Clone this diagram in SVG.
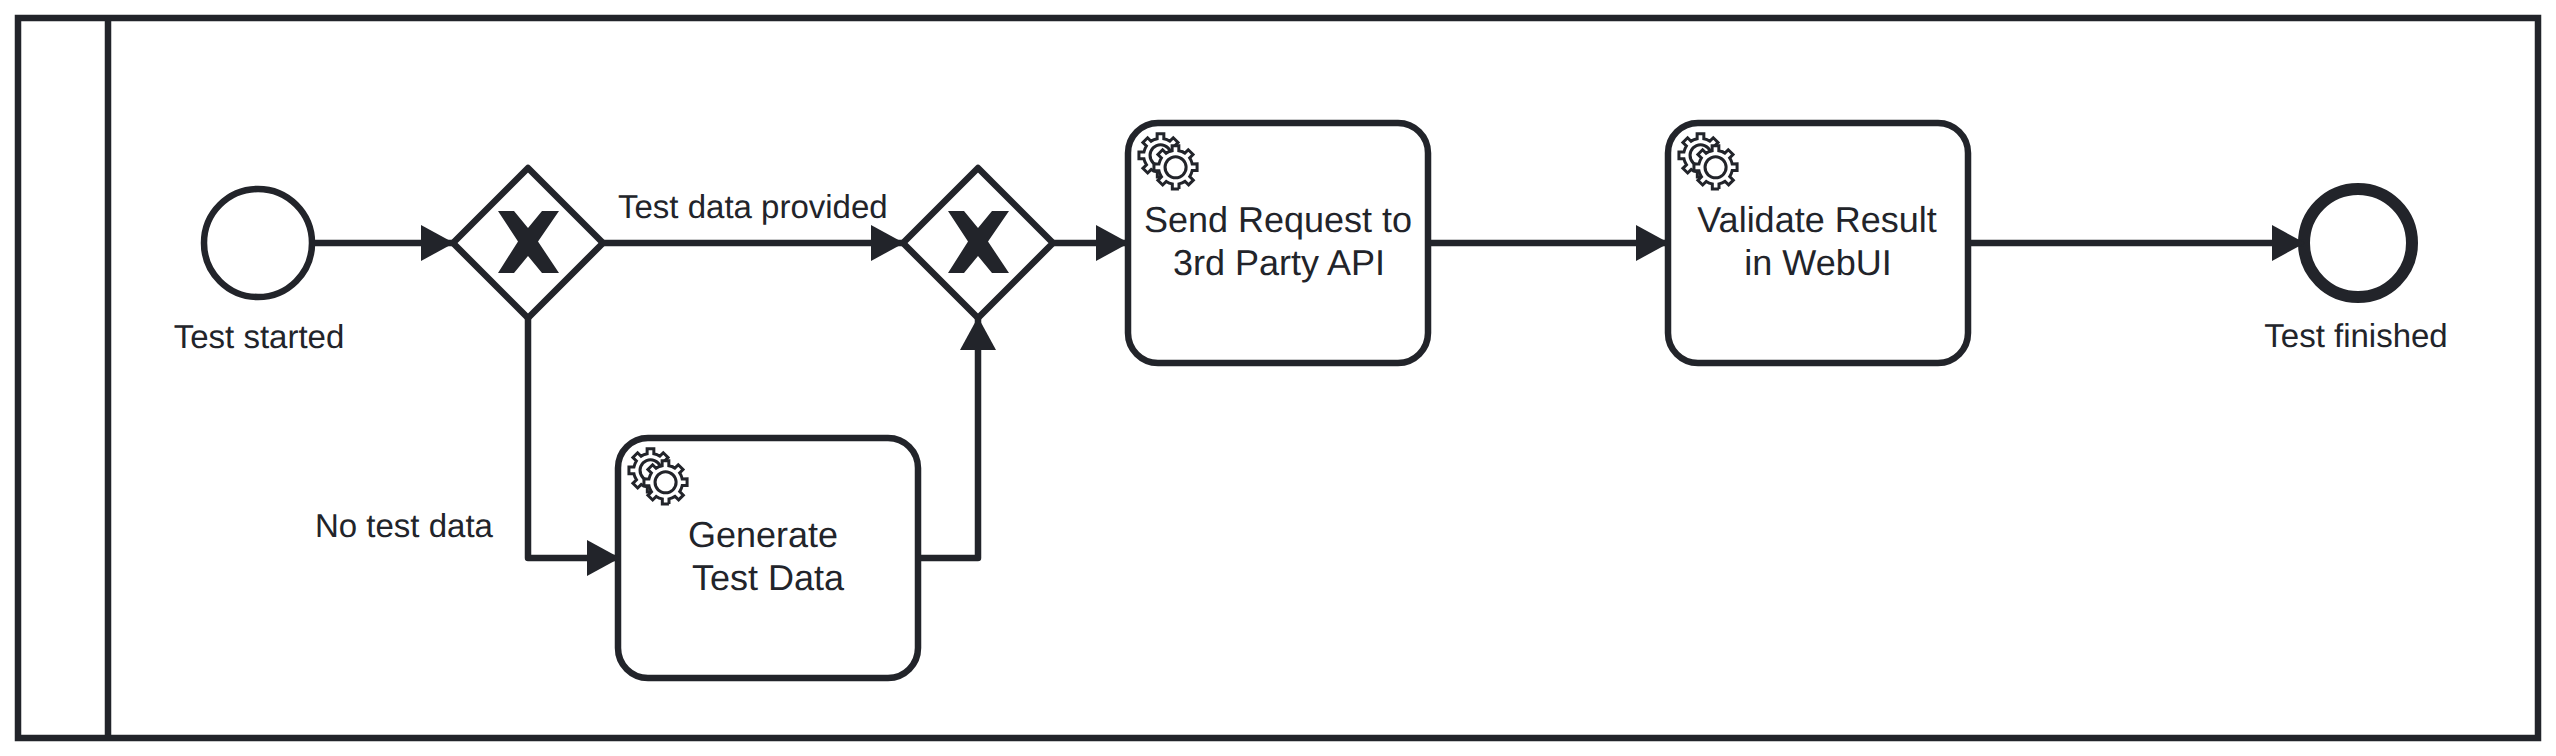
<svg xmlns="http://www.w3.org/2000/svg" xmlns:xlink="http://www.w3.org/1999/xlink" width="2556" height="756" viewBox="0 0 2556 756">
<style>
text{font-family:"Liberation Sans",Arial,sans-serif;fill:#22242a;text-rendering:geometricPrecision}
.lbl{font-size:33px}
.tsk{font-size:36px;text-anchor:middle}
.mid{text-anchor:middle}
.edge{fill:none;stroke:#22242a;stroke-width:6.5;stroke-linejoin:round}
.shape{fill:#fff;stroke:#22242a;stroke-width:6.5;stroke-linejoin:round}
.gear{fill:#fff;stroke:#22242a;stroke-width:1}
</style>
<defs>
<marker id="arrow" markerUnits="userSpaceOnUse" markerWidth="36" markerHeight="38" refX="32" refY="19" orient="auto"><path d="M0 1 L33 19 L0 37 Z" fill="#22242a"/></marker>
<path id="gearPath" d="m 0,0 v -1.71335 c 0.352326,-0.0705 0.703932,-0.17838 1.047628,-0.32133 0.344416,-0.14465 0.665822,-0.32133 0.966377,-0.52145 l 1.19431,1.18005 1.567487,-1.57688 -1.195028,-1.18014 c 0.403376,-0.61394 0.683079,-1.29908 0.825447,-2.01824 l 1.622133,-0.01 v -2.2196 l -1.636514,0.01 c -0.07333,-0.35153 -0.178319,-0.70024 -0.323564,-1.04372 -0.145244,-0.34406 -0.321407,-0.6644 -0.522735,-0.96217 l 1.131035,-1.13631 -1.583305,-1.56293 -1.129598,1.13589 c -0.614052,-0.40108 -1.302883,-0.68093 -2.022633,-0.82247 l 0.0093,-1.61852 h -2.241173 l 0.0042,1.63124 c -0.353763,0.0736 -0.705369,0.17977 -1.049785,0.32371 -0.344415,0.14437 -0.665102,0.32092 -0.9635006,0.52046 l -1.1698628,-1.15823 -1.5667691,1.5792 1.1684265,1.15669 c -0.4026573,0.61283 -0.68308,1.29797 -0.8247287,2.01713 l -1.6588041,0.003 v 2.22174 l 1.6724648,-0.006 c 0.073327,0.35077 0.1797598,0.70243 0.3242851,1.04472 0.1452428,0.34448 0.3214064,0.6644 0.5227339,0.96066 l -1.1993431,1.19723 1.5840256,1.56011 1.1964668,-1.19348 c 0.6140517,0.40346 1.3028827,0.68232 2.0233517,0.82331 l 7.19e-4,1.69892 h 2.226848 z m 0.221462,-3.9957 c -1.788948,0.7502 -3.8576,-0.0928 -4.6097055,-1.87438 -0.7521065,-1.78321 0.090598,-3.84627 1.8802645,-4.59604 1.78823,-0.74936 3.856881,0.0929 4.608987,1.87437 0.752106,1.78165 -0.0906,3.84612 -1.879546,4.59605 z"/>
<g id="service">
<use xlink:href="#gearPath" href="#gearPath" x="12" y="18" class="gear"/>
<path d="m 17.2,18 c -1.788948,0.7502 -3.8576,-0.0928 -4.6097055,-1.87438 -0.7521065,-1.78321 0.090598,-3.84627 1.8802645,-4.59604 1.78823,-0.74936 3.856881,0.0929 4.608987,1.87437 0.752106,1.78165 -0.0906,3.84612 -1.879546,4.59605 z" fill="#fff"/>
<use xlink:href="#gearPath" href="#gearPath" x="17" y="22" class="gear"/>
</g>
</defs>
<rect width="2556" height="756" fill="#fff"/>
<g id="pool">
<rect x="18" y="18" width="2520" height="720" fill="#fff" stroke="#22242a" stroke-width="6.5"/>
<line x1="108" y1="18" x2="108" y2="738" stroke="#22242a" stroke-width="6.5"/>
</g>
<g id="start">
<circle class="shape" cx="258" cy="243" r="54"/>
<text class="lbl mid" x="259" y="348">Test started</text>
</g>
<g id="gateway1">
<path class="shape" d="M528 168L603 243L528 318L453 243Z"/>
<path fill="#22242a" d="M498 211H514L528 228L542 211H559L538 241.500L559 273H542L528 256L514 273H498L518 241.500Z"/>
</g>
<text id="label-provided" class="lbl" x="618" y="218">Test data provided</text>
<g id="gateway2">
<path class="shape" d="M978 168L1053 243L978 318L903 243Z"/>
<path fill="#22242a" d="M948 211H964L978 228L992 211H1009L988 241.500L1009 273H992L978 256L964 273H948L968 241.500Z"/>
</g>
<text id="label-notest" class="lbl" x="315" y="537">No test data</text>
<g id="task-generate">
<rect class="shape" x="618" y="438" width="300" height="240" rx="30"/>
<use xlink:href="#service" href="#service" transform="translate(618 438) scale(3)"/>
<text class="tsk" x="763" y="547">Generate</text>
<text class="tsk" x="768" y="590">Test Data</text>
</g>
<g id="task-send">
<rect class="shape" x="1128" y="123" width="300" height="240" rx="30"/>
<use xlink:href="#service" href="#service" transform="translate(1128 123) scale(3)"/>
<text class="tsk" x="1278" y="232">Send Request to</text>
<text class="tsk" x="1279" y="275">3rd Party API</text>
</g>
<g id="task-validate">
<rect class="shape" x="1668" y="123" width="300" height="240" rx="30"/>
<use xlink:href="#service" href="#service" transform="translate(1668 123) scale(3)"/>
<text class="tsk" x="1817" y="232">Validate Result</text>
<text class="tsk" x="1818" y="275">in WebUI</text>
</g>
<g id="end">
<circle cx="2358" cy="243" r="54" fill="#fff" stroke="#22242a" stroke-width="12"/>
<text class="lbl mid" x="2356" y="347">Test finished</text>
</g>
<g id="connectors">
<path class="edge" marker-end="url(#arrow)" d="M315 243H453"/>
<path class="edge" marker-end="url(#arrow)" d="M603 243H903"/>
<path class="edge" marker-end="url(#arrow)" d="M1053 243H1128"/>
<path class="edge" marker-end="url(#arrow)" d="M1428 243H1668"/>
<path class="edge" marker-end="url(#arrow)" d="M1968 243H2304"/>
<path class="edge" marker-end="url(#arrow)" d="M528 318V558H619"/>
<path class="edge" marker-end="url(#arrow)" d="M918 558H978V318"/>
</g>
</svg>
